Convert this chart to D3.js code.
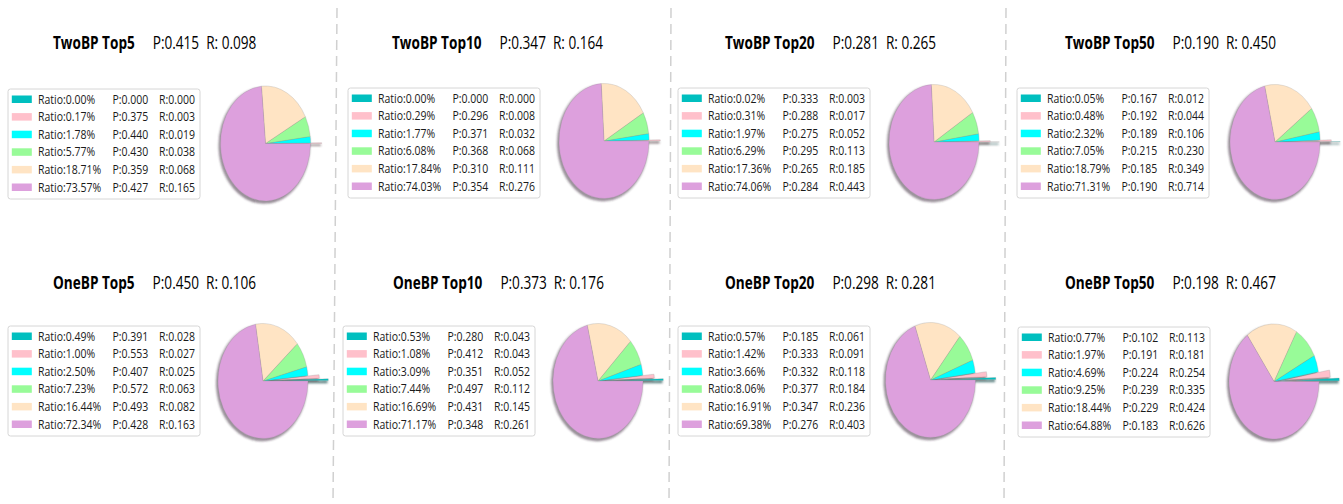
<!DOCTYPE html>
<html><head><meta charset="utf-8">
<script src="https://cdn.jsdelivr.net/npm/d3@7"></script>
<style>
html,body{margin:0;padding:0;background:#fff;}
svg{display:block;font-family:"Open Sans",sans-serif;}
</style></head>
<body>
<svg id="chart" width="1343" height="504"></svg>
<script>
// ---- data ----
const titles = ["TwoBP Top5","TwoBP Top10","TwoBP Top20","TwoBP Top50",
                "OneBP Top5","OneBP Top10","OneBP Top20","OneBP Top50"];
const titleP = ["0.415","0.347","0.281","0.190","0.450","0.373","0.298","0.198"];
const titleR = ["0.098","0.164","0.265","0.450","0.106","0.176","0.281","0.467"];

const ratioTwo5  = [0.00,0.17,1.78,5.77,18.71,73.57];
const ratioTwo10 = [0.00,0.29,1.77,6.08,17.84,74.03];
const ratioTwo20 = [0.02,0.31,1.97,6.29,17.36,74.06];
const ratioTwo50 = [0.05,0.48,2.32,7.05,18.79,71.31];
const ratioOne5  = [0.49,1.00,2.50,7.23,16.44,72.34];
const ratioOne10 = [0.53,1.08,3.09,7.44,16.69,71.17];
const ratioOne20 = [0.57,1.42,3.66,8.06,16.91,69.38];
const ratioOne50 = [0.77,1.97,4.69,9.25,18.44,64.88];

const pTwo5  = ["0.000","0.375","0.440","0.430","0.359","0.427"];
const pTwo10 = ["0.000","0.296","0.371","0.368","0.310","0.354"];
const pTwo20 = ["0.333","0.288","0.275","0.295","0.265","0.284"];
const pTwo50 = ["0.167","0.192","0.189","0.215","0.185","0.190"];
const pOne5  = ["0.391","0.553","0.407","0.572","0.493","0.428"];
const pOne10 = ["0.280","0.412","0.351","0.497","0.431","0.348"];
const pOne20 = ["0.185","0.333","0.332","0.377","0.347","0.276"];
const pOne50 = ["0.102","0.191","0.224","0.239","0.229","0.183"];

const rTwo5  = ["0.000","0.003","0.019","0.038","0.068","0.165"];
const rTwo10 = ["0.000","0.008","0.032","0.068","0.111","0.276"];
const rTwo20 = ["0.003","0.017","0.052","0.113","0.185","0.443"];
const rTwo50 = ["0.012","0.044","0.106","0.230","0.349","0.714"];
const rOne5  = ["0.028","0.027","0.025","0.063","0.082","0.163"];
const rOne10 = ["0.043","0.043","0.052","0.112","0.145","0.261"];
const rOne20 = ["0.061","0.091","0.118","0.184","0.236","0.403"];
const rOne50 = ["0.113","0.181","0.254","0.335","0.424","0.626"];

const explode = [0.45,0.25,0,0,0,0];
const colors = ["#00bfbf","#ffc0cb","#00ffff","#98fb98","#ffe4c4","#dda0dd"];

const ratios = [ratioTwo5,ratioTwo10,ratioTwo20,ratioTwo50,ratioOne5,ratioOne10,ratioOne20,ratioOne50];
const pvals  = [pTwo5,pTwo10,pTwo20,pTwo50,pOne5,pOne10,pOne20,pOne50];
const rvals  = [rTwo5,rTwo10,rTwo20,rTwo50,rOne5,rOne10,rOne20,rOne50];

// ---- layout ----
const layout = [
  {tx:53,  ty:48.5, lx:8,    ly:89,  cx:265.5, cy:143.5},
  {tx:392, ty:48.5, lx:348,  ly:88,  cx:604,   cy:141},
  {tx:725, ty:48.5, lx:678,  ly:88,  cx:934,   cy:142},
  {tx:1065,ty:48.5, lx:1017, ly:88,  cx:1275,  cy:142},
  {tx:53,  ty:288.5,lx:8,    ly:326, cx:263,   cy:381},
  {tx:393, ty:288.5,lx:343,  ly:326, cx:598,   cy:381},
  {tx:725, ty:288.5,lx:678,  ly:326, cx:930.5, cy:380},
  {tx:1065,ty:288.5,lx:1018, ly:327, cx:1274,  cy:381.5}
];
const RX = 45, RY = 57.5, VS = 1.27;

const svg = d3.select("#chart");
const defs = svg.append("defs");
const f = defs.append("filter").attr("id","blur").attr("x","-20%").attr("y","-20%").attr("width","140%").attr("height","140%");
f.append("feGaussianBlur").attr("stdDeviation",0.8);

// dividers
[[337,333],[671,669],[1006,1004]].forEach(([x1,x2])=>{
  svg.append("line").attr("x1",x1).attr("x2",x2).attr("y1",8).attr("y2",504)
    .attr("stroke","#d0d0d0").attr("stroke-width",1.5).attr("stroke-dasharray","10,6");
});

const pie = d3.pie().sort(null).value(d=>d).startAngle(Math.PI/2).endAngle(Math.PI/2 - 2*Math.PI);
const arc = d3.arc().innerRadius(0).outerRadius(RX);

function darker(c){ const r = d3.rgb(c); return d3.rgb(r.r*0.3,r.g*0.3,r.b*0.3).toString(); }

function sText(parent, x, y, size){
  return parent.append("text").attr("transform",`translate(${x},${y}) scale(1,${VS})`)
    .attr("font-size",size);
}

titles.forEach((t,i)=>{
  const L = layout[i];
  // title
  const tt = sText(svg, L.tx, L.ty, 13.6).attr("fill","#000");
  tt.append("tspan").attr("font-weight","bold").text(t);
  tt.append("tspan").attr("dx",18).text("P:" + titleP[i]);
  tt.append("tspan").attr("dx",7).text("R: " + titleR[i]);

  // legend
  const lg = svg.append("g").attr("transform",`translate(${L.lx},${L.ly})`);
  lg.append("rect").attr("x",0).attr("y",0).attr("width",192).attr("height",110).attr("rx",2.5)
    .attr("fill","#fff").attr("stroke","#d6d6d6").attr("stroke-width",1);
  const rowY = d3.scaleLinear().domain([0,5]).range([10.5,98.5]);
  ratios[i].forEach((v,k)=>{
    const y = rowY(k);
    lg.append("rect").attr("x",3.8).attr("y",y-4).attr("width",20).attr("height",7.5).attr("fill",colors[k]);
    sText(lg, 30, y+4, 10.5).attr("fill","#1a1a1a").text("Ratio:"+v.toFixed(2)+"%");
    sText(lg, 104.5, y+4, 10.5).attr("fill","#1a1a1a").text("P:"+pvals[i][k]);
    sText(lg, 151, y+4, 10.5).attr("fill","#1a1a1a").text("R:"+rvals[i][k]);
  });

  // pie
  const arcs = pie(ratios[i]).filter(d=>d.value>0);
  const pg = svg.append("g").attr("transform",`translate(${L.cx},${L.cy}) scale(1,${RY/RX})`);
  const off = d=>{
    const a = (d.startAngle + d.endAngle)/2, e = explode[d.index]*RX;
    return `translate(${Math.sin(a)*e},${-Math.cos(a)*e})`;
  };
  const sg = pg.append("g").attr("transform","translate(-1.3,1.6)").attr("filter","url(#blur)");
  sg.selectAll("path").data(arcs).join("path")
    .attr("transform",off).attr("d",arc)
    .attr("fill",d=>darker(colors[d.index])).attr("fill-opacity",0.5)
    .attr("stroke",d=>darker(colors[d.index])).attr("stroke-opacity",0.5).attr("stroke-width",1.2)
    .attr("vector-effect","non-scaling-stroke");
  pg.append("g").selectAll("path").data(arcs).join("path")
    .attr("transform",off).attr("d",arc)
    .attr("fill",d=>colors[d.index])
    .attr("stroke","#8a8a8a").attr("stroke-opacity",0.35).attr("stroke-width",0.6)
    .attr("vector-effect","non-scaling-stroke");
});
</script>
</body></html>
